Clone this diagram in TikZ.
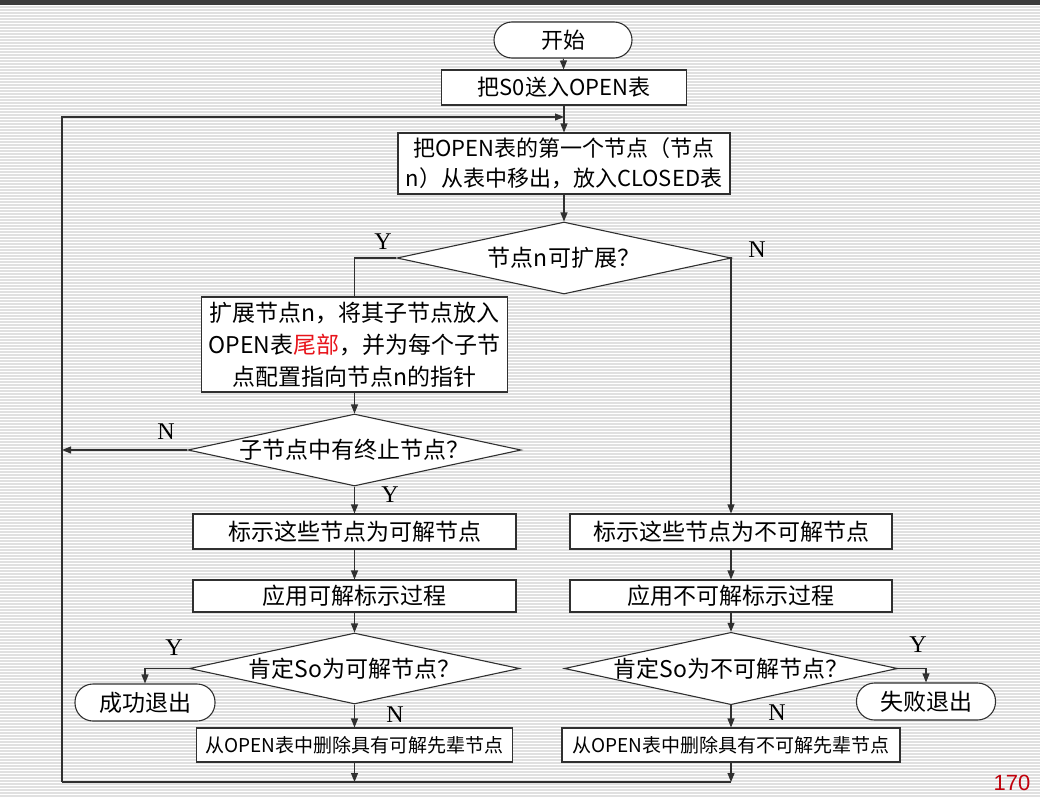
\documentclass[tikz,border=0pt]{standalone}
\usepackage{fontspec}
\setmainfont{Noto Sans CJK SC}
\newfontfamily\latinserif{Liberation Serif}
\newfontfamily\latinsans{Liberation Sans}
\usetikzlibrary{shapes.geometric,arrows.meta}
\definecolor{ln}{HTML}{303030}
\definecolor{stripe}{HTML}{E0E0E0}
\definecolor{topbar}{HTML}{3C3C3C}
\definecolor{pgred}{HTML}{C0000B}
\definecolor{hlred}{HTML}{E8141B}
\begin{document}
\begin{tikzpicture}[x=1pt,y=-1pt,
  box/.style={draw=ln, line width=1.1pt, fill=white, inner sep=2pt, align=center, text=black, font=\fontsize{22}{30}\selectfont},
  term/.style={box, rounded corners=18pt},
  dia/.style={draw=ln, line width=1.1pt, fill=white, diamond, aspect=4.6, inner sep=0pt, text=black, font=\fontsize{23}{28}\selectfont},
  arr/.style={draw=ln, line width=1.1pt, -{Triangle[length=9pt,width=7pt]}},
  con/.style={draw=ln, line width=1.1pt},
  yn/.style={font=\latinserif\fontsize{24}{24}\selectfont, text=black}]
\fill[white] (0,0) rectangle (1040,798);
\useasboundingbox (0,0) rectangle (1040,798);
\foreach \y in {7,10,...,797} \draw[stripe, line width=1.2pt] (0,\y) -- (1040,\y);
\fill[topbar] (0,0) rectangle (1040,5);

% nodes
\node[term, minimum width=138pt, minimum height=36pt] (start) at (563,40) {开始};
\node[box, minimum width=245pt, minimum height=35pt] (b1) at (564,87.5) {把S0送入OPEN表};
\node[box, minimum width=332pt, minimum height=61pt] (b2) at (564,163.5) {把OPEN表的第一个节点（节点\\n）从表中移出，放入CLOSED表};
\node[dia, minimum width=334pt, minimum height=72pt] (d1) at (564,258) {节点n可扩展？};
\node[box, font=\fontsize{23}{32}\selectfont, minimum width=306pt, minimum height=95pt] (b3) at (354.5,344.5) {扩展节点n，将其子节点放入\\OPEN表\textcolor{hlred}{尾部}，并为每个子节\\点配置指向节点n的指针};
\node[dia, minimum width=333pt, minimum height=72pt] (d2) at (354.5,450) {子节点中有终止节点？};
\node[box, font=\fontsize{23}{28}\selectfont, minimum width=323pt, minimum height=35pt] (b4) at (354.5,531.5) {标示这些节点为可解节点};
\node[box, font=\fontsize{23}{28}\selectfont, minimum width=322pt, minimum height=35pt] (b5) at (731,531.5) {标示这些节点为不可解节点};
\node[box, font=\fontsize{23}{28}\selectfont, minimum width=323pt, minimum height=32pt] (b6) at (354.5,596) {应用可解标示过程};
\node[box, font=\fontsize{23}{28}\selectfont, minimum width=322pt, minimum height=32pt] (b6r) at (731,596) {应用不可解标示过程};
\node[dia, minimum width=330pt, minimum height=71pt] (d3) at (354.5,668.5) {肯定So为可解节点？};
\node[dia, minimum width=332pt, minimum height=71pt] (d4) at (731,668.5) {肯定So为不可解节点？};
\node[term, font=\fontsize{23}{28}\selectfont, minimum width=140pt, minimum height=37pt] (succ) at (145,702.5) {成功退出};
\node[term, font=\fontsize{23}{28}\selectfont, minimum width=139pt, minimum height=37pt] (fail) at (926,701.5) {失败退出};
\node[box, font=\fontsize{19}{24}\selectfont, minimum width=316pt, minimum height=34pt] (b7) at (354.5,745) {从OPEN表中删除具有可解先辈节点};
\node[box, font=\fontsize{19}{24}\selectfont, minimum width=338pt, minimum height=34pt] (b8) at (731,745) {从OPEN表中删除具有不可解先辈节点};

% free ends
\coordinate (tj) at (564,117);
\coordinate (tl) at (62,117);
\coordinate (bl) at (62,782);
\coordinate (bm) at (354.5,782);
\coordinate (br) at (731,782);
\coordinate (lm) at (62,450);

% connectors
\draw[arr] (start) -- (b1);
\draw[arr] (b1) -- (b2);
\draw[con] (br) -- (bl);
\draw[arr] (bl) -- (tl) -- (tj);
\draw[arr] (b2) -- (d1);
\draw[con] (d1.west) -| (b3.north);
\draw[arr] (d1.east) -| (b5.north);
\draw[arr] (b3) -- (d2);
\draw[arr] (d2.west) -- (lm);
\draw[arr] (d2) -- (b4);
\draw[arr] (b4) -- (b6);
\draw[arr] (b5) -- (b6r);
\draw[arr] (b6) -- (d3);
\draw[arr] (b6r) -- (d4);
\draw[arr] (d3.west) -| (succ.north);
\draw[arr] (d4.east) -| (fail.north);
\draw[arr] (d3) -- (b7);
\draw[arr] (d4) -- (b8);
\draw[arr] (b7) -- (bm);
\draw[arr] (b8) -- (br);

% labels
\node[yn] (y1) at (383,242) {Y};
\node[yn] (n1) at (757,250) {N};
\node[yn] (n2) at (166,432) {N};
\node[yn] (y2) at (390,495) {Y};
\node[yn] (y3) at (174,648) {Y};
\node[yn] (n3) at (395,715) {N};
\node[yn] (y4) at (918,645) {Y};
\node[yn] (n4) at (777,713) {N};

\node[font=\latinsans\fontsize{22}{22}\selectfont, text=pgred, inner sep=0pt] (pg) at (1012,783) {170};
\end{tikzpicture}
\end{document}
